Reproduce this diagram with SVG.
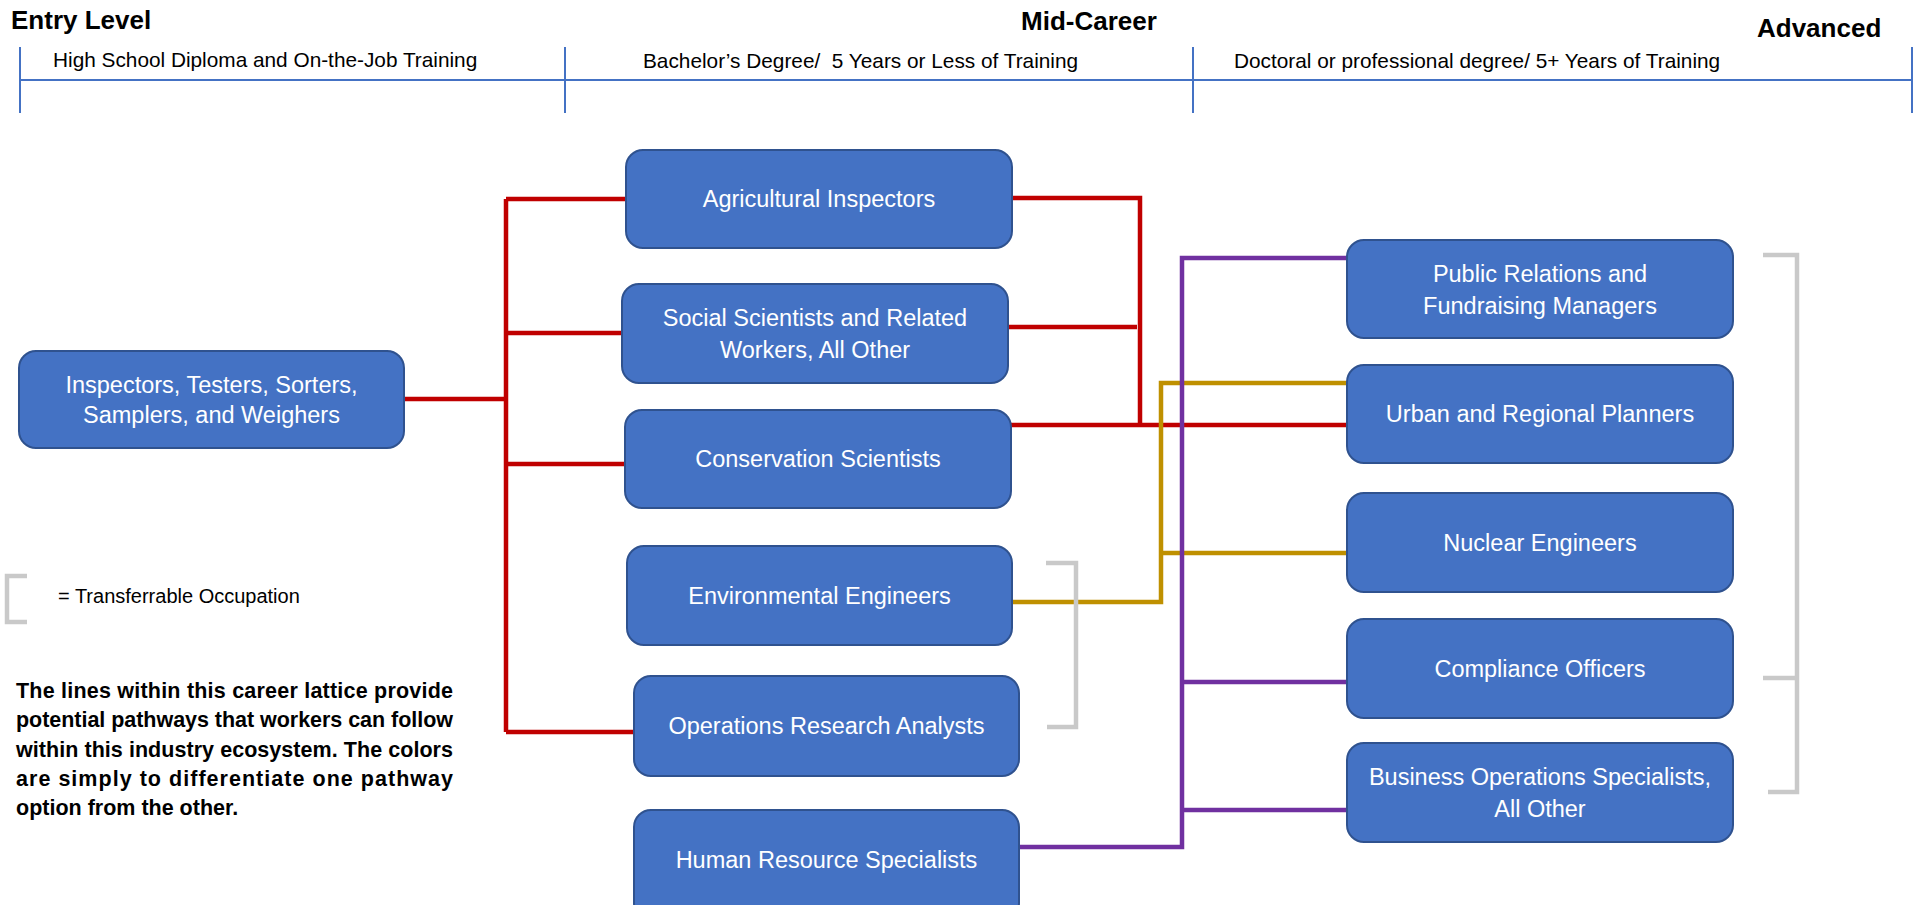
<svg xmlns="http://www.w3.org/2000/svg" width="1917" height="905" viewBox="0 0 1917 905">
<style>
.bg{fill:#ffffff}
.hl{stroke:#4472C4;stroke-width:2;fill:none}
.h1{font-family:"Liberation Sans",Arial,sans-serif;font-weight:bold;font-size:26px;fill:#000}
.h2{font-family:"Liberation Sans",Arial,sans-serif;font-size:20.8px;fill:#000;white-space:pre}
.box{fill:#4472C4;stroke:#2F528F;stroke-width:2}
.nt{font-family:"Liberation Sans",Arial,sans-serif;font-size:23.5px;fill:#fff;text-anchor:middle}
.red{stroke:#C00000;stroke-width:4.5;fill:none}
.gold{stroke:#BF9000;stroke-width:4.5;fill:none}
.pur{stroke:#7030A0;stroke-width:4.5;fill:none}
.gray{stroke:#C9C9C9;stroke-width:4.5;fill:none}
.lg{font-family:"Liberation Sans",Arial,sans-serif;font-size:20px;fill:#000}
.para{font-family:"Liberation Sans",Arial,sans-serif;font-weight:bold;font-size:21.5px;fill:#000}
</style>
<rect class="bg" x="0" y="0" width="1917" height="905"/>

<g id="header">
  <text class="h1" x="11" y="29">Entry Level</text>
  <text class="h1" x="1089" y="30" text-anchor="middle">Mid-Career</text>
  <text class="h1" x="1757" y="37">Advanced</text>
  <text class="h2" x="53" y="67">High School Diploma and On-the-Job Training</text>
  <text class="h2" x="643" y="68">Bachelor’s Degree/  5 Years or Less of Training</text>
  <text class="h2" x="1234" y="68">Doctoral or professional degree/ 5+ Years of Training</text>
  <path class="hl" d="M20,47 V113 M565,47 V113 M1193,47 V113 M1912,47 V113 M20,80 H1912"/>
</g>

<g id="connectors">
  <g id="red-paths">
    <path class="red" d="M404,399 H506 M506,199 V732 M506,199 H626 M506,333 H622 M506,464 H625 M506,732 H634"/>
    <path class="red" d="M1011,198 H1140 V425 M1008,327 H1137 M1011,425 H1347"/>
  </g>
  <g id="gold-paths">
    <path class="gold" d="M1012,602 H1161 V383 H1347 M1161,553 H1347"/>
  </g>
  <g id="purple-paths">
    <path class="pur" d="M1019,847 H1182 V258 H1347 M1182,682 H1347 M1182,810 H1347"/>
  </g>
  <g id="transfer-brackets">
    <path class="gray" d="M1046,563 H1076 V727 H1047"/>
    <path class="gray" d="M1763,255 H1797 V792 H1768 M1763,678 H1797"/>
  </g>
</g>

<g id="n-inspectors">
  <rect class="box" x="19" y="351" width="385" height="97" rx="17"/>
  <text class="nt" x="211.5" y="393">Inspectors, Testers, Sorters,</text>
  <text class="nt" x="211.5" y="423">Samplers, and Weighers</text>
</g>
<g id="n-agricultural">
  <rect class="box" x="626" y="150" width="386" height="98" rx="17"/>
  <text class="nt" x="819" y="207">Agricultural Inspectors</text>
</g>
<g id="n-social">
  <rect class="box" x="622" y="284" width="386" height="99" rx="17"/>
  <text class="nt" x="815" y="326">Social Scientists and Related</text>
  <text class="nt" x="815" y="358">Workers, All Other</text>
</g>
<g id="n-conservation">
  <rect class="box" x="625" y="410" width="386" height="98" rx="17"/>
  <text class="nt" x="818" y="467">Conservation Scientists</text>
</g>
<g id="n-environmental">
  <rect class="box" x="627" y="546" width="385" height="99" rx="17"/>
  <text class="nt" x="819.5" y="604">Environmental Engineers</text>
</g>
<g id="n-operations">
  <rect class="box" x="634" y="676" width="385" height="100" rx="17"/>
  <text class="nt" x="826.5" y="734">Operations Research Analysts</text>
</g>
<g id="n-hr">
  <rect class="box" x="634" y="810" width="385" height="110" rx="17"/>
  <text class="nt" x="826.5" y="868">Human Resource Specialists</text>
</g>
<g id="n-public">
  <rect class="box" x="1347" y="240" width="386" height="98" rx="17"/>
  <text class="nt" x="1540" y="282">Public Relations and</text>
  <text class="nt" x="1540" y="314">Fundraising Managers</text>
</g>
<g id="n-urban">
  <rect class="box" x="1347" y="365" width="386" height="98" rx="17"/>
  <text class="nt" x="1540" y="422">Urban and Regional Planners</text>
</g>
<g id="n-nuclear">
  <rect class="box" x="1347" y="493" width="386" height="99" rx="17"/>
  <text class="nt" x="1540" y="551">Nuclear Engineers</text>
</g>
<g id="n-compliance">
  <rect class="box" x="1347" y="619" width="386" height="99" rx="17"/>
  <text class="nt" x="1540" y="677">Compliance Officers</text>
</g>
<g id="n-business">
  <rect class="box" x="1347" y="743" width="386" height="99" rx="17"/>
  <text class="nt" x="1540" y="785">Business Operations Specialists,</text>
  <text class="nt" x="1540" y="817">All Other</text>
</g>

<g id="legend">
  <path class="gray" d="M27,576 H7 V622 H27"/>
  <text class="lg" x="58" y="603">= Transferrable Occupation</text>
</g>

<g id="note">
  <text class="para" x="16" y="698" textLength="437" lengthAdjust="spacing">The lines within this career lattice provide</text>
  <text class="para" x="16" y="727" textLength="437" lengthAdjust="spacing">potential pathways that workers can follow</text>
  <text class="para" x="16" y="757" textLength="437" lengthAdjust="spacing">within this industry ecosystem. The colors</text>
  <text class="para" x="16" y="786" textLength="437" lengthAdjust="spacing">are simply to differentiate one pathway</text>
  <text class="para" x="16" y="815">option from the other.</text>
</g>
</svg>
